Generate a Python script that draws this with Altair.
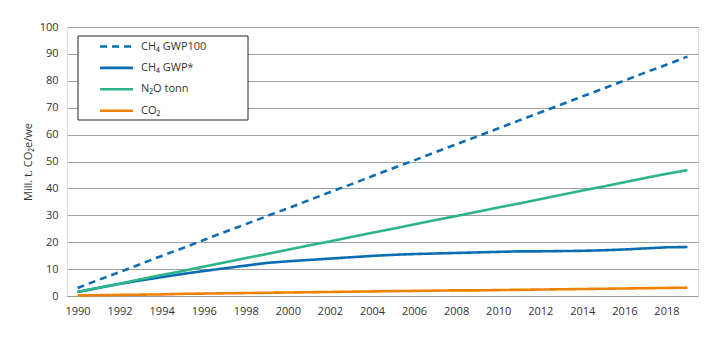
import altair as alt
import pandas as pd

years = list(range(1990, 2020))
ch4_gwp100 = [3.0, 6.0, 8.9, 11.9, 14.9, 17.8, 20.8, 23.8, 26.7, 29.7, 32.6, 35.6, 38.6, 41.5, 44.5,
              47.5, 50.4, 53.4, 56.4, 59.3, 62.3, 65.3, 68.2, 71.2, 74.2, 77.1, 80.1, 83.1, 86.0, 89.0]
ch4_gwpstar = [1.5, 3.0, 4.5, 5.8, 7.0, 8.2, 9.3, 10.3, 11.3, 12.3, 12.9, 13.4, 13.9, 14.4, 14.9,
               15.3, 15.6, 15.8, 16.0, 16.2, 16.4, 16.6, 16.6, 16.7, 16.8, 17.0, 17.3, 17.7, 18.1, 18.2]
n2o = [1.5, 3.1, 4.6, 6.2, 7.8, 9.3, 10.9, 12.5, 14.1, 15.6, 17.2, 18.8, 20.3, 21.9, 23.5,
       25.0, 26.6, 28.2, 29.7, 31.3, 32.9, 34.4, 36.0, 37.6, 39.2, 40.7, 42.3, 43.9, 45.4, 46.8]
co2 = [0.2, 0.3, 0.4, 0.5, 0.6, 0.8, 0.9, 1.0, 1.1, 1.2, 1.3, 1.4, 1.5, 1.6, 1.7,
       1.8, 1.9, 2.0, 2.1, 2.1, 2.2, 2.3, 2.4, 2.5, 2.6, 2.7, 2.8, 2.9, 3.0, 3.1]

series_names = ["CH₄ GWP100", "CH₄ GWP*", "N₂O tonn", "CO₂"]
series_values = [ch4_gwp100, ch4_gwpstar, n2o, co2]
colors = ["#0a6db3", "#0a6db3", "#2db48c", "#f08000"]
dashes = [[7, 5], [1, 0], [1, 0], [1, 0]]
x_ticks = list(range(1990, 2019, 2))
y_ticks = list(range(0, 101, 10))

rows = []
for name, vals in zip(series_names, series_values):
    for yr, v in zip(years, vals):
        rows.append({"year": yr, "value": v, "series": name})
df = pd.DataFrame(rows)

FONT = "Open Sans"

lines = alt.Chart(df).mark_line(strokeWidth=2.6).encode(
    x=alt.X("year:Q", scale=alt.Scale(domain=[1989.5, 2019.5], nice=False, zero=False),
            axis=alt.Axis(values=x_ticks, format="d", title=None, grid=False, ticks=False,
                          domain=True, domainColor="#999999", domainWidth=1,
                          labelPadding=9, labelFontSize=11, labelColor="#333333", labelFont=FONT)),
    y=alt.Y("value:Q", scale=alt.Scale(domain=[0, 100], nice=False),
            axis=alt.Axis(values=y_ticks, title="Mill. t. CO₂e/we", grid=True, gridColor="#a0a0a0",
                          gridWidth=1, ticks=False, domain=False, labelPadding=9,
                          labelFontSize=11, labelColor="#333333", labelFont=FONT,
                          titleFont=FONT, titleFontSize=11, titleFontWeight="normal",
                          titleColor="#333333", titlePadding=6)),
    color=alt.Color("series:N", scale=alt.Scale(domain=series_names, range=colors),
                    legend=alt.Legend(title=None, orient="none", legendX=11, legendY=0,
                                      symbolType="M-1.83,0H1.83", symbolSize=324,
                                      symbolStrokeWidth=2.6,
                                      labelFont=FONT, labelFontSize=11, labelColor="#333333",
                                      padding=9, rowPadding=5.4,
                                      symbolOffset=19, labelOffset=14)),
    strokeDash=alt.StrokeDash("series:N", scale=alt.Scale(domain=series_names, range=dashes),
                              legend=None),
    order=alt.Order("series:N"),
)

legend_box = alt.Chart(pd.DataFrame({"k": [0]})).mark_rect(
    fill="white", stroke="#222222", strokeWidth=1
).encode(x=alt.value(11), x2=alt.value(181), y=alt.value(9), y2=alt.value(93))

chart = alt.layer(lines, legend_box).properties(
    width=631, height=269,
    autosize=alt.AutoSizeParams(type="none"),
    padding={"left": 67, "top": 27, "right": 21, "bottom": 45},
).configure_view(stroke=None).configure(background="white")

chart.save("out.html", embed_options={"renderer": "svg", "actions": False})
